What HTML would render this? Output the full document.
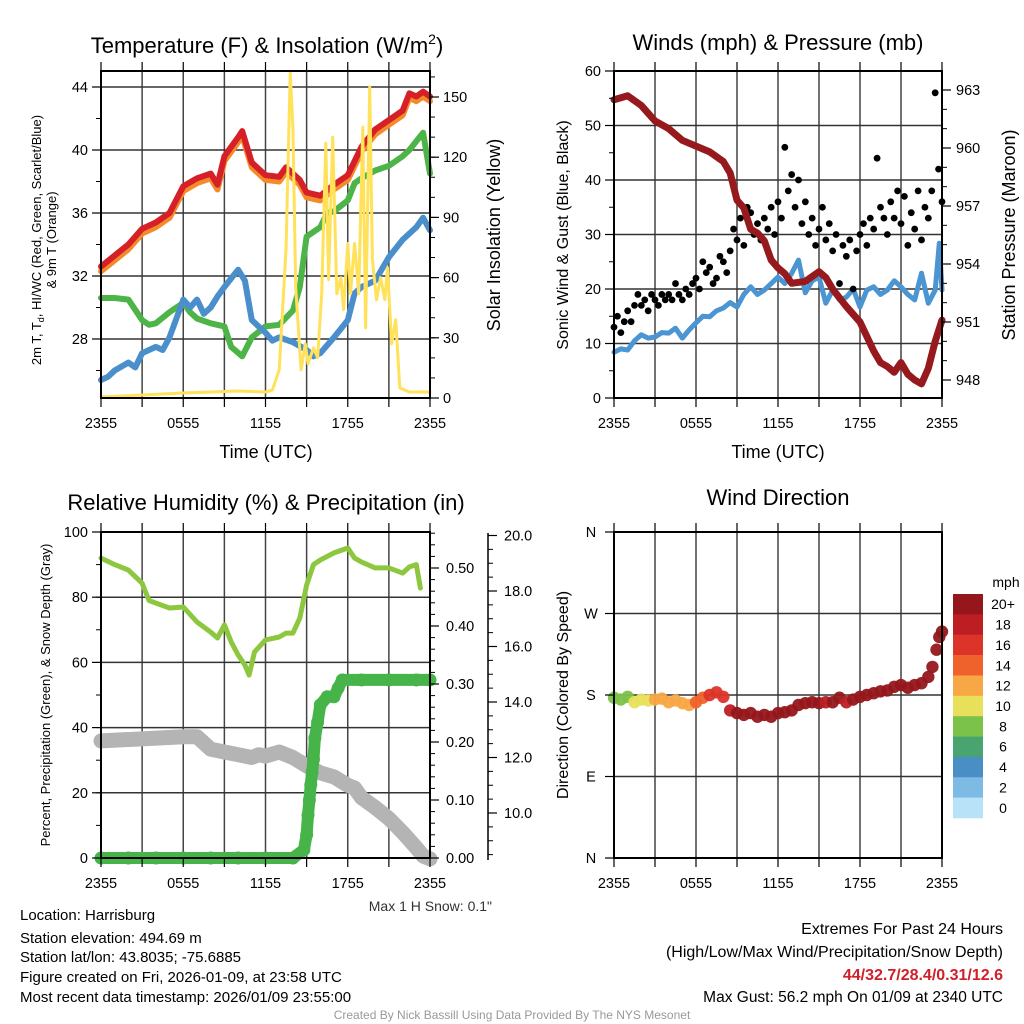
<!DOCTYPE html>
<html><head><meta charset="utf-8">
<style>
html,body{margin:0;padding:0;background:#fff;}
svg{display:block;font-family:"Liberation Sans",Arial,sans-serif;}
</style></head>
<body>
<svg id="chart" width="1024" height="1024" viewBox="0 0 1024 1024" xmlns="http://www.w3.org/2000/svg">
<rect width="1024" height="1024" fill="#fff"/>
<text x="267" y="53" font-size="22" text-anchor="middle">Temperature (F) &amp; Insolation (W/m<tspan dy="-9" font-size="14">2</tspan><tspan dy="9">)</tspan></text>
<text x="778" y="50" font-size="22" text-anchor="middle">Winds (mph) &amp; Pressure (mb)</text>
<text x="266" y="510" font-size="22" text-anchor="middle">Relative Humidity (%) &amp; Precipitation (in)</text>
<text x="778" y="505" font-size="22" text-anchor="middle">Wind Direction</text>

<text x="266" y="458" font-size="18" text-anchor="middle">Time (UTC)</text>
<text x="778" y="458" font-size="18" text-anchor="middle">Time (UTC)</text>

<text transform="translate(41,240) rotate(-90)" font-size="13" text-anchor="middle">2m T, T<tspan font-size="9" dy="3">d</tspan><tspan dy="-3">, HI/WC (Red, Green, Scarlet/Blue)</tspan></text>
<text transform="translate(56,240) rotate(-90)" font-size="13" text-anchor="middle">&amp; 9m T (Orange)</text>
<text transform="translate(500,235) rotate(-90)" font-size="18" text-anchor="middle">Solar Insolation (Yellow)</text>
<text transform="translate(568,235) rotate(-90)" font-size="16" text-anchor="middle">Sonic Wind &amp; Gust (Blue, Black)</text>
<text transform="translate(1015,235) rotate(-90)" font-size="18" text-anchor="middle">Station Pressure (Maroon)</text>
<text transform="translate(50,695) rotate(-90)" font-size="13" text-anchor="middle">Percent, Precipitation (Green), &amp; Snow Depth (Gray)</text>
<text transform="translate(568,695) rotate(-90)" font-size="16" text-anchor="middle">Direction (Colored By Speed)</text>

<text x="492" y="911" font-size="14" fill="#333" text-anchor="end">Max 1 H Snow: 0.1"</text>
<g font-size="15">
<text x="20" y="920">Location: Harrisburg</text>
<text x="20" y="943">Station elevation: 494.69 m</text>
<text x="20" y="962">Station lat/lon: 43.8035; -75.6885</text>
<text x="20" y="982">Figure created on Fri, 2026-01-09, at 23:58 UTC</text>
<text x="20" y="1002">Most recent data timestamp: 2026/01/09 23:55:00</text>
</g>
<g font-size="16" text-anchor="end">
<text x="1003" y="934">Extremes For Past 24 Hours</text>
<text x="1003" y="957">(High/Low/Max Wind/Precipitation/Snow Depth)</text>
<text x="1003" y="980" font-weight="bold" fill="#d0202a">44/32.7/28.4/0.31/12.6</text>
<text x="1003" y="1002" font-size="15.5">Max Gust: 56.2 mph On 01/09 at 2340 UTC</text>
</g>
<text x="512" y="1019" font-size="12" fill="#999" text-anchor="middle">Created By Nick Bassill Using Data Provided By The NYS Mesonet</text>
</svg>
<script>
// ---------- DATA ----------
const xTickHours = [0, 6, 12, 18, 24];
const xTickLabels = ["2355", "0555", "1155", "1755", "2355"];

const tempTimes = [0,1,2,3,4,5,6,7,8,8.5,9,10,10.3,11,12,13,13.5,14.5,15,16,17,18,19,20,21,22,22.5,23,23.5,24];
const temp2m = [32.6,33.3,34.0,35.0,35.4,36.0,37.7,38.2,38.5,37.8,39.6,40.8,41.2,39.2,38.4,38.3,38.9,38.1,37.3,37.1,37.8,38.4,40.2,41.3,41.9,42.5,43.6,43.4,43.7,43.4];
const temp9m = [32.3,33.0,33.7,34.7,35.1,35.7,37.4,37.9,38.2,37.5,39.3,40.5,40.9,38.9,38.1,38.0,38.6,37.8,37.0,36.8,37.5,38.1,39.9,41.0,41.6,42.2,43.3,43.1,43.4,43.1];
const hiTimes = [0,1,2,3,3.5,4,5,6,6.5,7,8,9,9.5,10.3,11,12,13,14,14.5,15,16,16.5,17,18,18.5,19,20,21,22,22.5,23.5,24];
const hiwc = [30.6,30.6,30.5,29.2,28.9,29.0,29.7,30.3,29.7,29.3,29.0,28.8,27.5,26.9,28.1,28.8,28.9,29.8,31.3,34.5,35.1,36.0,36.1,36.8,37.9,38.2,38.7,39.0,39.6,40.0,41.1,38.5];
const tdTimes = [0,0.5,1,2,2.5,3,4,4.5,5,6,6.5,7,7.5,8,8.5,9,10,10.5,11,11.5,12,12.5,13,14,15,15.5,16,17,18,18.5,19,20,21,22,23,23.5,24];
const dewpoint = [25.4,25.6,26.0,26.5,26.2,27.1,27.5,27.3,28.1,30.5,30.0,30.5,29.6,30.0,30.7,31.3,32.4,31.7,29.2,28.8,28.4,27.9,28.1,27.8,27.3,26.9,27.1,28.1,29.2,30.9,31.3,31.7,33.2,34.3,35.1,35.7,34.9];
const solTimes = [0,6,10,12,12.5,13,13.5,13.8,14.0,14.2,14.6,14.9,15.1,15.5,15.8,16.1,16.4,16.6,16.9,17.2,17.5,17.7,18.0,18.2,18.5,18.8,19.1,19.3,19.6,19.8,20.1,20.4,20.7,20.9,21.2,21.5,21.8,22.5,24];
const insolation = [0.5,2.5,3.5,3,4,14,75,162,135,55,14,27,17,25,20,52,127,59,130,52,60,44,77,52,77,52,135,35,155,69,49,60,49,65,27,39,5,3,3];

const presTimes = [0,1,2,3,4,5,6,7,8,8.5,9,9.5,10,10.5,11,11.5,12,12.5,13,14,15,15.5,16,17,18,19,19.5,20,20.5,21,21.5,22,22.5,23,23.5,24];
const pressure = [962.5,962.7,962.2,961.4,961.0,960.4,960.1,959.8,959.3,958.7,957.3,956.9,955.8,955.6,955.2,954.2,953.8,953.5,953.0,953.1,953.6,953.3,952.7,951.8,951.0,949.5,948.9,948.7,948.4,948.9,948.3,948.0,947.8,948.6,950.0,951.1];
const windTimes = [0,0.5,1,1.5,2,2.5,3,3.5,4,4.5,5,5.5,6,6.5,7,7.5,8,8.5,9,9.5,10,10.5,11,11.5,12,12.5,13,13.5,14,14.5,15,15.5,16,16.5,17,17.5,18,18.5,19,19.5,20,20.5,21,21.5,22,22.5,23,23.5,23.8,24];
const windSpeed = [8.4,9.0,8.8,10.5,11.6,11.0,11.2,12.0,11.9,12.8,11.0,12.5,13.8,15.0,14.9,16.0,16.5,17.5,16.7,19.0,20.4,19.0,19.8,21.0,22.2,21.0,22.9,25.3,19.3,21.5,22.2,17.4,19.8,18.0,18.5,20.0,16.7,19.8,20.4,19.0,19.8,21.5,20.4,19.0,18.0,22.9,17.4,19.8,28.4,19.8];
const gustValues = [13,15,12,14,16,14,17,19,17,18,16,19,18,17,19,18,19,18,21,19,18,20,19,21,22,20,25,23,24,21,22,26,25,23,27,31,29,33,28,35,34,30,32,29,33,31,35,30,36,33,46,38,41,35,40,32,36,30,33,28,31,35,29,32,27,30,21,28,26,29,20,27,30,32,28,33,31,44,35,33,30,36,33,38,32,37,28,34,31,38,29,35,33,38,56,42,36];

const rhTimes = [0,1,2,3,3.5,4,5,6,7,8,8.5,9,9.5,10,10.5,10.8,11.2,12,13,13.5,14,14.5,15,15.5,16,17,18,18.5,19,20,21,22,22.5,23,23.3];
const rhValues = [92,90,88.3,84.3,79,78.2,76.7,77,72.4,69.3,67.5,71.5,66.3,62.3,59.2,56.1,63.2,66.9,67.8,69,69,73.6,83.7,90,91.4,93.6,95.1,92,90.8,89,89,87.4,89.3,90,82.8];
const precipTimes = [0,2,4,6,8,10,12,14,14.8,15,15.1,15.2,15.3,15.4,15.5,15.6,15.8,16,16.5,17,17.3,17.6,19,21,23,24];
const precipValues = [0,0,0,0,0,0,0,0,0.014,0.04,0.074,0.10,0.126,0.148,0.17,0.207,0.234,0.264,0.278,0.278,0.293,0.307,0.307,0.307,0.307,0.307];
const snowTimes = [0,6,7,8,9,10,11,11.5,12,13,14,15,16,17,18,18.5,19,20,21,22,23,23.5,24];
const snowDepth = [12.6,12.75,12.75,12.3,12.2,12.1,12.0,12.1,12.05,12.2,12.0,11.7,11.45,11.3,11.0,10.9,10.55,10.2,9.8,9.3,8.75,8.45,8.35];

const dirTimes = [0,0.5,1,1.5,2,2.5,3,3.5,4,4.5,5,5.5,6,6.5,7,7.5,8,8.5,9,9.5,10,10.5,11,11.5,12,12.5,13,13.5,14,14.5,15,15.5,16,16.5,17,17.5,18,18.5,19,19.5,20,20.5,21,21.5,22,22.5,23,23.3,23.6,23.8,24];
const dirValues = [177,175,178,172,175,174,175,176,172,174,171,169,172,177,180,183,178,163,160,158,160,156,158,156,160,161,163,169,171,172,171,172,172,177,172,175,178,180,182,184,185,189,191,188,191,193,200,211,230,244,250];
const dirSpeeds = [8,9,8,10,11,10,12,12,13,12,12,13,14,15,16,17,16,19,21,21,21,22,21,21,22,21,22,21,22,21,20,19,21,20,19,21,20,22,21,20,22,21,21,22,21,22,22,21,22,21,22];
const cbLabels = ["20+","18","16","14","12","10","8","6","4","2","0"];
const cbColors = ["#95171b","#bd1e24","#dc3428","#f0622b","#f7a845","#e8e05a","#7bc24b","#49a570","#4a8ec6","#7dbae4","#b7e2f8"];

// ---------- HELPERS ----------
const svg = document.getElementById('chart');
const NS = 'http://www.w3.org/2000/svg';
function mk(tag, attrs, parent) {
  const e = document.createElementNS(NS, tag);
  for (const k in attrs) e.setAttribute(k, attrs[k]);
  (parent || svg).appendChild(e);
  return e;
}
function lin(d0, d1, r0, r1) { return v => r0 + (v - d0) * (r1 - r0) / (d1 - d0); }
function pathD(xs, ys, sx, sy) {
  return xs.map((t, i) => (i ? 'L' : 'M') + sx(t).toFixed(1) + ',' + sy(ys[i]).toFixed(1)).join('');
}

const panels = {
  p1: {x0: 101, x1: 430, y0: 71, y1: 398},
  p2: {x0: 614, x1: 942, y0: 71, y1: 398},
  p3: {x0: 101, x1: 430, y0: 532, y1: 858},
  p4: {x0: 614, x1: 942, y0: 532, y1: 858}
};

function frame(p, name, hLines, sy) {
  const g = mk('g', {});
  
  
  const sx = lin(0, 24, p.x0, p.x1);
  for (let h = 3; h < 24; h += 3) {
    const gl = mk('line', {x1: sx(h), x2: sx(h), y1: p.y0, y2: p.y1, stroke: '#444', 'stroke-width': 1.5}, g);
    
    
  }
  hLines.forEach(v => {
    const hl = mk('line', {x1: p.x0, x2: p.x1, y1: sy(v), y2: sy(v), stroke: '#333', 'stroke-width': 1.5}, g);
    
    
  });
  return sx;
}
function border(p, name) {
  const r = mk('rect', {x: p.x0, y: p.y0, width: p.x1 - p.x0, height: p.y1 - p.y0, fill: 'none', stroke: '#000', 'stroke-width': 2});
  
  
  const sx = lin(0, 24, p.x0, p.x1);
  const g = mk('g', {});
  
  
  for (let h = 0; h <= 24; h += 3) {
    mk('line', {x1: sx(h), x2: sx(h), y1: p.y0 - 9, y2: p.y0, stroke: '#000', 'stroke-width': 1.2}, g);
    mk('line', {x1: sx(h), x2: sx(h), y1: p.y1, y2: p.y1 + 9, stroke: '#000', 'stroke-width': 1.2}, g);
  }
  xTickHours.forEach((h, i) => {
    const t = mk('text', {x: sx(h), y: p.y1 + 30, 'font-size': 14.5, 'text-anchor': 'middle'}, g);
    
    
    t.textContent = xTickLabels[i];
  });
}
function yAxis(x, yTop, yBot, sy, majors, minors, fmt, side, name, labelOff) {
  const g = mk('g', {});
  
  
  const dir = side === 'left' ? -1 : 1;
  mk('line', {x1: x, x2: x, y1: yTop, y2: yBot, stroke: '#000', 'stroke-width': 1.5}, g);
  minors.forEach(v => mk('line', {x1: x, x2: x + dir * 5, y1: sy(v), y2: sy(v), stroke: '#000', 'stroke-width': 1}, g));
  majors.forEach(v => {
    mk('line', {x1: x, x2: x + dir * 9, y1: sy(v), y2: sy(v), stroke: '#000', 'stroke-width': 1.2}, g);
    const t = mk('text', {x: x + dir * (labelOff || 13), y: sy(v) + 5, 'font-size': 14.5, 'text-anchor': side === 'left' ? 'end' : 'start'}, g);
    
    
    t.textContent = fmt(v);
  });
}
function range(a, b, s) { const r = []; for (let v = a; v <= b + 1e-9; v += s) r.push(+v.toFixed(4)); return r; }
function drawLine(xs, ys, sx, sy, color, w, name) {
  const p = mk('path', {d: pathD(xs, ys, sx, sy), fill: 'none', stroke: color, 'stroke-width': w, 'stroke-linejoin': 'round', 'stroke-linecap': 'round'});
  
  
  return p;
}

// ---------- PANEL 1 ----------
const P1 = panels.p1;
const t1y = lin(28, 44, 339, 87);
const s1y = lin(0, 150, 398, 97);
const p1x = frame(P1, 'temp', [28, 32, 36, 40, 44], t1y);
drawLine(tempTimes, temp9m, p1x, t1y, '#f58a2b', 6, 'temp-9m-line');
drawLine(tempTimes, temp2m, p1x, t1y, '#d42026', 6, 'temp-2m-line');
drawLine(hiTimes, hiwc, p1x, t1y, '#4db448', 6, 'heat-index-windchill-line');
drawLine(tdTimes, dewpoint, p1x, t1y, '#4a8fcb', 6, 'dewpoint-line');
drawLine(solTimes, insolation, p1x, s1y, '#ffe259', 3, 'insolation-line');
border(P1, 'temp');
yAxis(P1.x0, P1.y0, P1.y1, t1y, [28, 32, 36, 40, 44], range(26, 44, 2), v => String(v), 'left', 'temp-y-axis');
yAxis(P1.x1, P1.y0, P1.y1, s1y, range(0, 150, 30), range(0, 160, 10), v => String(v), 'right', 'insolation-y-axis');

// ---------- PANEL 2 ----------
const P2 = panels.p2;
const w2y = lin(0, 60, 398, 71);
const pr2y = lin(948, 963, 380, 90);
const p2x = frame(P2, 'wind', [10, 20, 30, 40, 50], w2y);
drawLine(windTimes, windSpeed, p2x, w2y, '#4a95d2', 5, 'sustained-wind-line');
const gg = mk('g', {});


gustValues.forEach((v, i) => {
  const c = mk('circle', {cx: p2x(i * 0.25), cy: w2y(v), r: 3.4, fill: '#000'}, gg);
  
  
});
drawLine(presTimes, pressure, p2x, pr2y, '#961a1d', 7, 'pressure-line');
border(P2, 'wind');
yAxis(P2.x0, P2.y0, P2.y1, w2y, range(0, 60, 10), range(0, 60, 5), v => String(v), 'left', 'wind-y-axis');
yAxis(P2.x1, P2.y0, P2.y1, pr2y, range(948, 963, 3), range(948, 963, 1), v => String(v), 'right', 'pressure-y-axis', 14);

// ---------- PANEL 3 ----------
const P3 = panels.p3;
const r3y = lin(0, 100, 858, 532);
const pc3y = lin(0, 0.5, 858, 568);
const sn3y = lin(10, 20, 813, 535.5);
const p3x = frame(P3, 'rh', [20, 40, 60, 80], r3y);
drawLine(snowTimes, snowDepth, p3x, sn3y, '#b4b4b4', 15, 'snow-depth-line');
drawLine(rhTimes, rhValues, p3x, r3y, '#8dc740', 5, 'relative-humidity-line');
drawLine(precipTimes, precipValues, p3x, pc3y, '#47b449', 12, 'precipitation-line');
const pg = mk('g', {});


precipTimes.forEach((t, i) => {
  const c = mk('circle', {cx: p3x(t), cy: pc3y(precipValues[i]), r: 6.5, fill: '#47b449'}, pg);
  
  
});
border(P3, 'rh');
yAxis(P3.x0, P3.y0, P3.y1, r3y, range(0, 100, 20), range(0, 100, 10), v => String(v), 'left', 'rh-y-axis');
yAxis(P3.x1, P3.y0, P3.y1, pc3y, range(0, 0.5, 0.1), range(0, 0.56, 0.02), v => v.toFixed(2), 'right', 'precip-y-axis', 16);
yAxis(488, 533, 860, sn3y, range(10, 20, 2), range(8.5, 20, 0.5), v => v.toFixed(1), 'right', 'snow-y-axis', 16);

// ---------- PANEL 4 ----------
const P4 = panels.p4;
const d4y = lin(0, 360, 858, 532);
const dirTicks = [0, 90, 180, 270, 360];
const dirLabels = ["N", "E", "S", "W", "N"];
const p4x = frame(P4, 'direction', [90, 180, 270], d4y);
function spdColor(s) { const b = Math.min(10, Math.floor(s / 2)); return cbColors[10 - b]; }
const dg = mk('g', {});


dirTimes.forEach((t, i) => {
  const c = mk('circle', {cx: p4x(t), cy: d4y(dirValues[i]), r: 6.2, fill: spdColor(dirSpeeds[i]), 'fill-opacity': 0.95}, dg);
  
  
});
border(P4, 'direction');
const dAx = mk('g', {});


dirTicks.forEach((v, i) => {
  mk('line', {x1: P4.x0 - 9, x2: P4.x0, y1: d4y(v), y2: d4y(v), stroke: '#000', 'stroke-width': 1.2}, dAx);
  const t = mk('text', {x: 591, y: d4y(v) + 5, 'font-size': 14.5, 'text-anchor': 'middle'}, dAx);
  
  
  t.textContent = dirLabels[i];
});
// colorbar
const cb = mk('g', {});


const cbTop = 594, cbH = 224 / cbColors.length;
cbColors.forEach((c, i) => {
  const r = mk('rect', {x: 953, y: cbTop + i * cbH, width: 30, height: cbH + 0.3, fill: c}, cb);
  
  
  const t = mk('text', {x: 1003, y: cbTop + i * cbH + cbH / 2 + 5, 'font-size': 14, 'text-anchor': 'middle'}, cb);
  
  
  t.textContent = cbLabels[i];
});
const mph = mk('text', {x: 1006, y: 587, 'font-size': 14, 'text-anchor': 'middle'}, cb);


mph.textContent = 'mph';
</script>
</body></html>
